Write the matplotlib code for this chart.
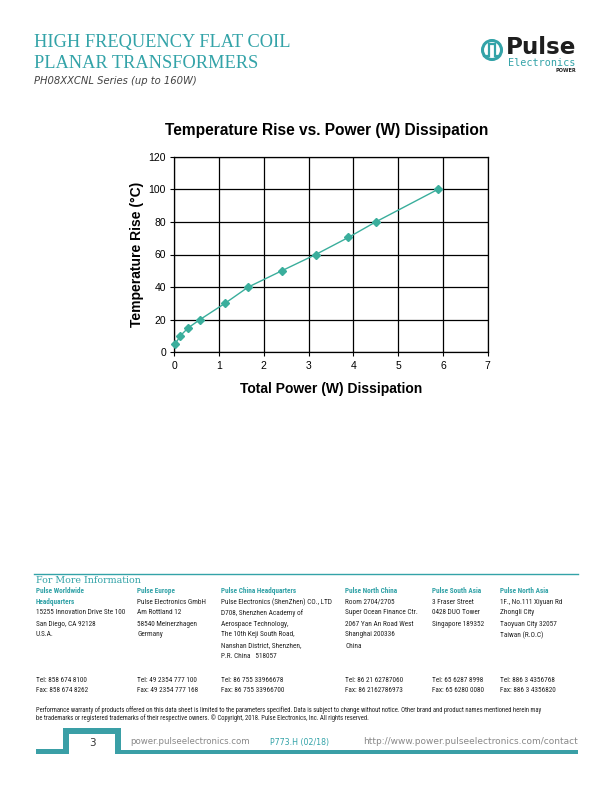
import matplotlib
matplotlib.use("Agg")
import matplotlib.pyplot as plt
import matplotlib.font_manager as fm
from matplotlib.patches import Circle, Polygon

# ---- data ----
power_w = [0.02, 0.13, 0.31, 0.57, 1.13, 1.65, 2.40, 3.16, 3.89, 4.50, 5.89]
temp_rise = [5, 10, 15, 20, 30, 40, 50, 60, 70.5, 80, 100]
x_ticks = [0, 1, 2, 3, 4, 5, 6, 7]
y_ticks = [0, 20, 40, 60, 80, 100, 120]

chart_title = "Temperature Rise vs. Power (W) Dissipation"
x_label = "Total Power (W) Dissipation"
y_label = "Temperature Rise (°C)"

header_lines = ["HIGH FREQUENCY FLAT COIL", "PLANAR TRANSFORMERS"]
subtitle = "PH08XXCNL Series (up to 160W)"

col_heads = [["Pulse Worldwide", "Headquarters"], ["Pulse Europe"], ["Pulse China Headquarters"],
             ["Pulse North China"], ["Pulse South Asia"], ["Pulse North Asia"]]
col_body = [
    ["15255 Innovation Drive Ste 100", "San Diego, CA 92128", "U.S.A."],
    ["Pulse Electronics GmbH", "Am Rottland 12", "58540 Meinerzhagen", "Germany"],
    ["Pulse Electronics (ShenZhen) CO., LTD", "D708, Shenzhen Academy of", "Aerospace Technology,",
     "The 10th Keji South Road,", "Nanshan District, Shenzhen,", "P.R. China   518057"],
    ["Room 2704/2705", "Super Ocean Finance Ctr.", "2067 Yan An Road West", "Shanghai 200336", "China"],
    ["3 Fraser Street", "0428 DUO Tower", "Singapore 189352"],
    ["1F., No.111 Xiyuan Rd", "Zhongli City", "Taoyuan City 32057", "Taiwan (R.O.C)"],
]
col_tel = ["Tel: 858 674 8100", "Tel: 49 2354 777 100", "Tel: 86 755 33966678",
           "Tel: 86 21 62787060", "Tel: 65 6287 8998", "Tel: 886 3 4356768"]
col_fax = ["Fax: 858 674 8262", "Fax: 49 2354 777 168", "Fax: 86 755 33966700",
           "Fax: 86 2162786973", "Fax: 65 6280 0080", "Fax: 886 3 4356820"]
col_x = [36, 137, 221, 345, 432, 500]

disclaimer = ["Performance warranty of products offered on this data sheet is limited to the parameters specified. Data is subject to change without notice. Other brand and product names mentioned herein may",
              "be trademarks or registered trademarks of their respective owners. © Copyright, 2018. Pulse Electronics, Inc. All rights reserved."]

TEAL = "#33a3a8"
LINE_TEAL = "#3aae9c"
W, H = 612, 792

fig = plt.figure(figsize=(W / 100, H / 100), dpi=100)
fig.patch.set_facecolor("white")
renderer = fig.canvas.get_renderer()

# pick a condensed sans if one is installed
names = {f.name for f in fm.fontManager.ttflist}
cond_family, cond_stretch = "DejaVu Sans", "normal"
for nm in ["Liberation Sans Narrow", "DejaVu Sans Condensed", "Roboto Condensed",
           "Open Sans Condensed", "Noto Sans Condensed"]:
    if nm in names:
        cond_family = nm
        break
else:
    for f in fm.fontManager.ttflist:
        if f.name in ("Noto Sans", "Roboto", "Open Sans", "DejaVu Sans") and \
                str(f.stretch) in ("condensed", "semi-condensed", "extra-condensed", "500", "400", "300"):
            if str(f.stretch) != "normal":
                cond_family, cond_stretch = f.name, "condensed"
                break

ov = fig.add_axes([0, 0, 1, 1], zorder=5)
ov.set_xlim(0, W)
ov.set_ylim(H, 0)
ov.axis("off")


def fit_size(text, width_px, base=8.0, **kw):
    t = ov.text(0, 0, text, fontsize=base, **kw)
    w = t.get_window_extent(renderer=renderer).width
    t.remove()
    return base * width_px / w


# ---- header ----
hs = fit_size(header_lines[0], 256, family="Liberation Serif")
for i, t in enumerate(header_lines):
    ov.text(34, 42 + i * 21, t, fontsize=hs, color=TEAL, family="Liberation Serif",
            va="center", ha="left")
ss = fit_size(subtitle, 163, family="DejaVu Sans", style="italic")
ov.text(34, 81, subtitle, fontsize=ss, color="#444444", style="italic",
        family="DejaVu Sans", va="center", ha="left")

# ---- logo ----
ov.add_patch(Circle((492, 50), 9.5, fill=False, ec=TEAL, lw=2.2))
ov.plot([484, 489, 489, 495, 495, 499], [56, 56, 44, 44, 56, 56], color=TEAL, lw=1.6,
        solid_joinstyle="miter")
ps = fit_size("Pulse", 70, family="DejaVu Sans", fontweight="bold")
ov.text(506, 48, "Pulse", fontsize=ps, fontweight="bold", color="#1e1e1e", family="DejaVu Sans",
        va="center", ha="left")
es = fit_size("Electronics", 68, family="DejaVu Sans Mono")
ov.text(508, 63, "Electronics", fontsize=es, color=TEAL, family="DejaVu Sans Mono",
        va="center", ha="left")
ov.text(576, 70.5, "POWER", fontsize=3.6, color="#222222", fontweight="bold",
        family="DejaVu Sans", va="center", ha="right")

# ---- footer ----
ov.plot([34, 578], [574, 574], color=TEAL, lw=1.0)
fs_ = fit_size("For More Information", 105, family="DejaVu Serif")
ov.text(36, 580.5, "For More Information", fontsize=fs_, color=TEAL, family="DejaVu Serif",
        va="center", ha="left")
ckw = dict(family=cond_family, fontstretch=cond_stretch)
bs = fit_size(col_body[2][0], 110, **ckw)
for cx, heads, body, tel, fax in zip(col_x, col_heads, col_body, col_tel, col_fax):
    y = 591
    for h in heads:
        ov.text(cx, y, h, fontsize=bs, color=TEAL, fontweight="bold", va="center", ha="left", **ckw)
        y += 11
    for b in body:
        ov.text(cx, y, b, fontsize=bs, color="#222222", va="center", ha="left", **ckw)
        y += 11
    ov.text(cx, 680, tel, fontsize=bs, color="#222222", va="center", ha="left", **ckw)
    ov.text(cx, 691, fax, fontsize=bs, color="#222222", va="center", ha="left", **ckw)
ds = fit_size(disclaimer[0], 515, **ckw)
for i, d in enumerate(disclaimer):
    ov.text(36, 710 + i * 8.5, d, fontsize=ds, color="#222222", va="center", ha="left", **ckw)

# bottom bar
ov.add_patch(Polygon([(36, 749), (63, 749), (63, 728), (121, 728), (121, 750), (578, 750),
                      (578, 754), (36, 754)], closed=True, fc="#3a9fa6", ec="none"))
ov.add_patch(Polygon([(69, 734), (115, 734), (115, 754), (69, 754)], closed=True,
                     fc="white", ec="none"))
ov.text(92, 743, "3", fontsize=7.5, color="#333333", family="DejaVu Sans",
        va="center", ha="center")
s1 = fit_size("power.pulseelectronics.com", 120, family="DejaVu Sans")
ov.text(130, 742, "power.pulseelectronics.com", fontsize=s1, color="#888888",
        family="DejaVu Sans", va="center", ha="left")
s2 = fit_size("P773.H (02/18)", 60, family="DejaVu Sans")
ov.text(270, 742, "P773.H (02/18)", fontsize=s2, color=TEAL, family="DejaVu Sans",
        va="center", ha="left")
s3 = fit_size("http://www.power.pulseelectronics.com/contact", 215, family="DejaVu Sans")
ov.text(578, 742, "http://www.power.pulseelectronics.com/contact", fontsize=s3, color="#888888",
        family="DejaVu Sans", va="center", ha="right")

# ---- chart ----
ax = fig.add_axes([174.3 / W, 1 - 352.3 / H, (487.7 - 174.3) / W, (352.3 - 156.7) / H])
ax.plot(power_w, temp_rise, color=LINE_TEAL, lw=1.0, marker="D", markersize=4,
        markerfacecolor=LINE_TEAL, markeredgecolor=LINE_TEAL, clip_on=False, zorder=5)
ax.set_xlim(0, 7)
ax.set_ylim(0, 120)
ax.set_xticks(x_ticks)
ax.set_yticks(y_ticks)
ax.grid(True, color="black", lw=0.9)
for s in ax.spines.values():
    s.set_color("black")
    s.set_linewidth(0.9)
ax.tick_params(labelsize=7.5, length=3, width=0.8, colors="black", pad=3)
for lab in ax.get_xticklabels() + ax.get_yticklabels():
    lab.set_family("Liberation Sans")
ax.set_xlabel(x_label, fontsize=10, fontweight="bold", family="Liberation Sans", labelpad=8)
ax.set_ylabel(y_label, fontsize=10, fontweight="bold", family="Liberation Sans", labelpad=3)
ts = fit_size(chart_title, 325, family="Liberation Sans", fontweight="bold")
ov.text(327, 131, chart_title, fontsize=ts, fontweight="bold", family="Liberation Sans",
        va="center", ha="center")

fig.savefig("out.png", dpi=100, facecolor="white")
